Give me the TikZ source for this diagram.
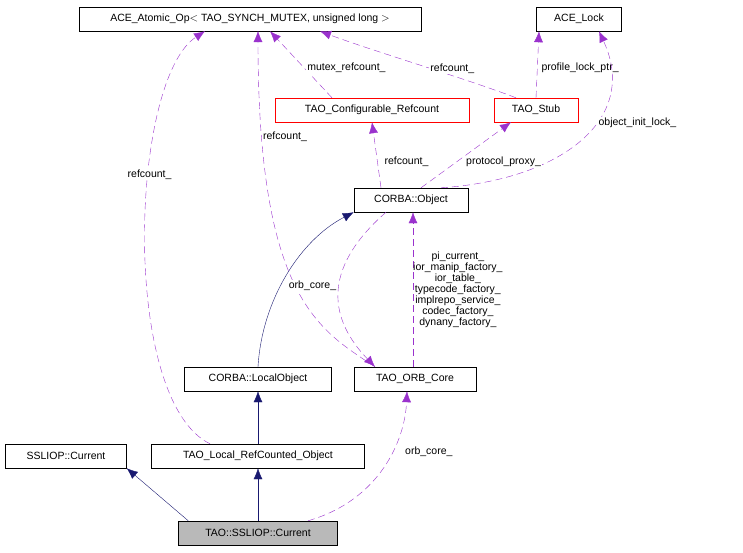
\documentclass[tikz,border=0pt]{standalone}
\usepackage{fontspec}
\setmainfont{Liberation Sans}
\usetikzlibrary{arrows.meta}
\definecolor{navy}{RGB}{25,25,112}
\definecolor{dpurple}{RGB}{154,50,205}
\begin{document}
\begin{tikzpicture}[x=1pt,y=-1pt,font=\fontsize{10.5}{12}\selectfont]
	\tikzset{cls/.style={draw=black,minimum height=24pt,inner xsep=3pt,inner ysep=0pt},
		redcls/.style={cls,draw=red},
		inh/.style={draw=navy,-{Latex[length=11pt,width=9pt]},fill=none},
		use/.style={color=dpurple,text=black,dash pattern=on 7pt off 4pt,-{Latex[length=11pt,width=9pt]}}}
	\useasboundingbox (0,0) rectangle (743,552);
	\node [cls,minimum width=342pt] (atomic) at (250,19) {ACE\_Atomic\_Op$<$ TAO\_SYNCH\_MUTEX, unsigned long $>$};
	\node [cls,minimum width=85pt] (lock) at (579,19) {ACE\_Lock};
	\node [redcls,minimum width=194pt] (cfgref) at (372,110) {TAO\_Configurable\_Refcount};
	\node [redcls,minimum width=84pt] (stub) at (536,110) {TAO\_Stub};
	\node [cls,minimum width=114pt] (object) at (411,200) {CORBA::Object};
	\node [cls,minimum width=147pt] (localobj) at (258,379) {CORBA::LocalObject};
	\node [cls,minimum width=122pt] (orbcore) at (415,379) {TAO\_ORB\_Core};
	\node [cls,minimum width=121pt] (sscur) at (66,456) {SSLIOP::Current};
	\node [cls,minimum width=213pt] (localref) at (258,456) {TAO\_Local\_RefCounted\_Object};
	\node [cls,minimum width=159pt,fill=gray!55] (cur) at (258,533) {TAO::SSLIOP::Current};
	% inheritance
	\draw [inh] (cur.north west) ++(10,0) -- (sscur.south east);
	\draw [inh] (cur) -- (localref);
	\draw [inh] (localref) -- (localobj);
	\draw [inh] (localobj.north) .. controls (262,300) and (300,240) .. (object.south west);
	% usage
	\draw [use] ([xshift=-48pt]localref.north) .. controls (120,400) and (130,80) .. ([xshift=-45pt]atomic.south)
		node [pos=0.62,fill=white,inner sep=1pt] {refcount\_};
	\draw [use] ([xshift=-40pt]orbcore.north) .. controls (320,330) and (258,300) .. (258,31)
		node [pos=0.85,right=0pt,fill=white,inner sep=1pt] {refcount\_};
	\draw [use] ([xshift=-40pt]cfgref.north) -- ([xshift=20pt]atomic.south)
		node [pos=0.45,right=2pt,fill=white,inner sep=1pt] {mutex\_refcount\_};
	\draw [use] ([xshift=-20pt]stub.north) .. controls (470,80) and (370,50) .. ([xshift=70pt]atomic.south)
		node [pos=0.35,above=1pt,fill=white,inner sep=1pt] {refcount\_};
	\draw [use] (stub.north) -- ([xshift=-40pt]lock.south)
		node [pos=0.45,right=3pt,fill=white,inner sep=1pt] {profile\_lock\_ptr\_};
	\draw [use] ([xshift=30pt]object.north) .. controls (560,180) and (640,120) .. ([xshift=20pt]lock.south)
		node [pos=0.6,right=2pt,fill=white,inner sep=1pt] {object\_init\_lock\_};
	\draw [use] ([xshift=-30pt]object.north) -- (cfgref.south)
		node [pos=0.4,right=6pt,fill=white,inner sep=1pt] {refcount\_};
	\draw [use] ([xshift=10pt]object.north) -- ([xshift=-25pt]stub.south)
		node [pos=0.4,right=8pt,fill=white,inner sep=1pt] {protocol\_proxy\_};
	\draw [use] ([xshift=-2pt]orbcore.north) -- ([xshift=2pt]object.south)
		node [pos=0.5,right=-1pt,align=center,inner sep=1pt,font=\fontsize{10.5}{11}\selectfont]
		{pi\_current\_\\ior\_manip\_factory\_\\ior\_table\_\\typecode\_factory\_\\implrepo\_service\_\\codec\_factory\_\\dynany\_factory\_};
	\draw [use] ([xshift=-25pt]object.south) .. controls (320,270) and (330,320) .. ([xshift=-40pt]orbcore.north)
		node [pos=0.45,left=2pt,fill=white,inner sep=1pt] {orb\_core\_};
	\draw [use] ([xshift=50pt]cur.north) .. controls (380,500) and (405,440) .. ([xshift=-8pt]orbcore.south)
		node [pos=0.6,right=12pt,fill=white,inner sep=1pt] {orb\_core\_};
\end{tikzpicture}
\end{document}
